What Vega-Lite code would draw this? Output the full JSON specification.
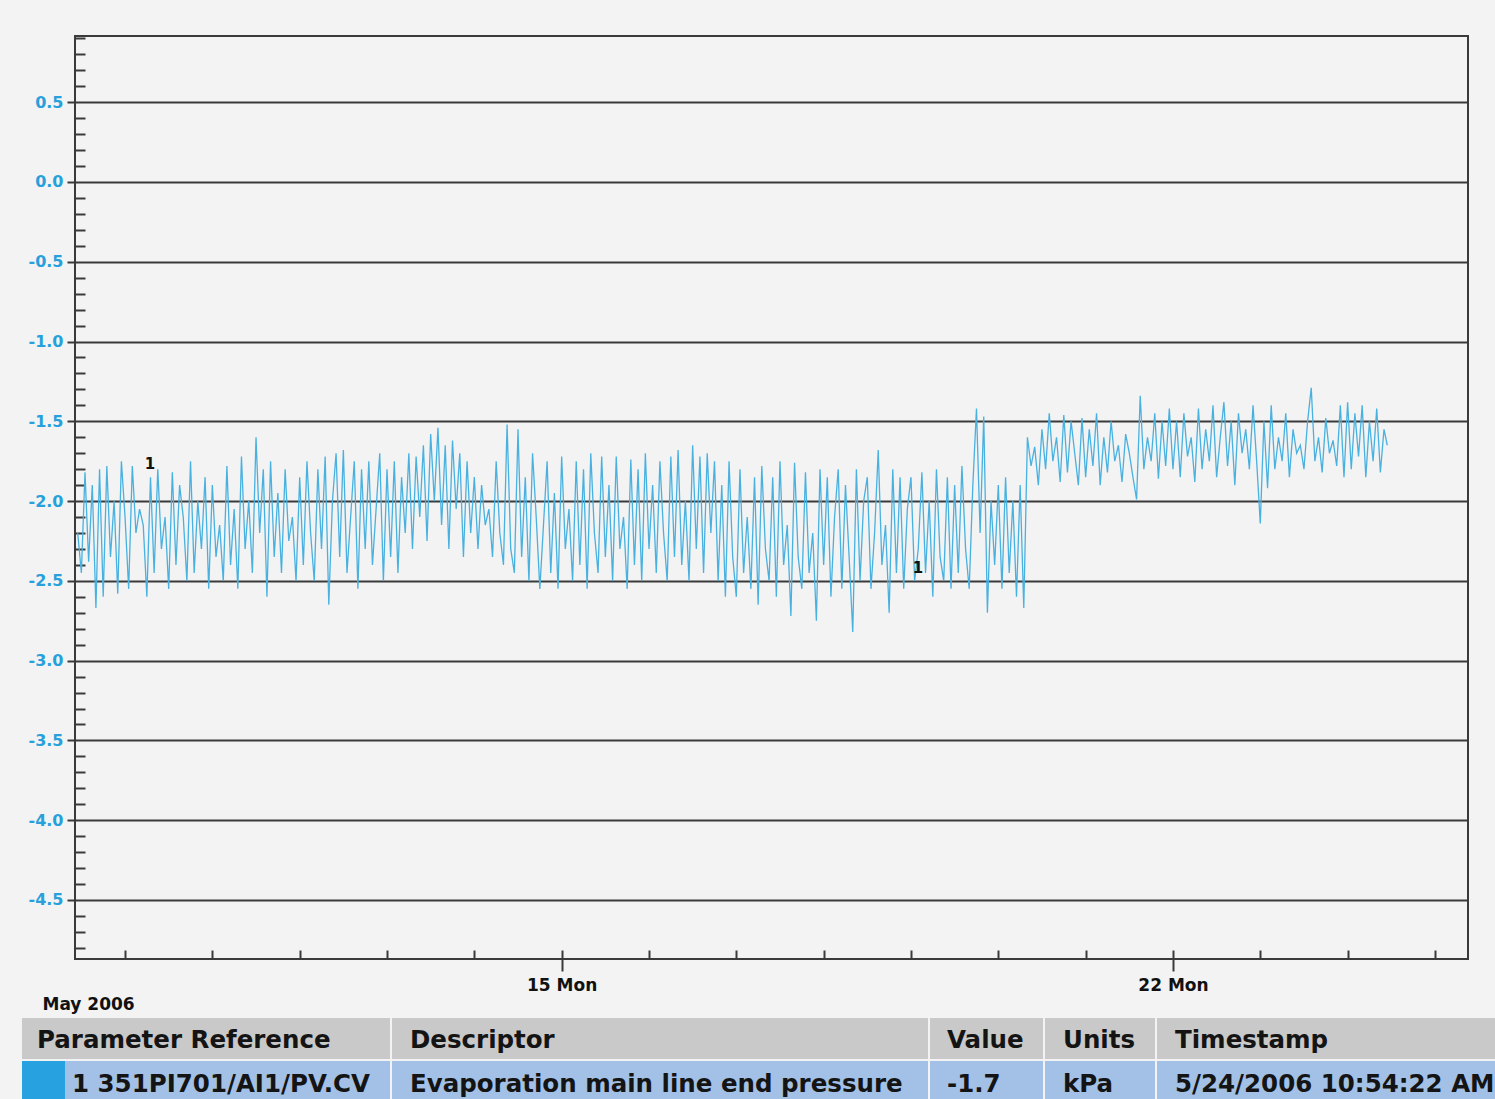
{
"$schema": "https://vega.github.io/schema/vega-lite/v6.json",
"background": "#f3f3f3",
"padding": {"left": 22, "top": 35, "right": 0, "bottom": 0},
"config": {"view": {"stroke": null}, "font": "DejaVu Sans"},
"spacing": 5,
"datasets": {
"markers": [{"t":"2006-05-10T06:52","v":-1.77,"label":"1"},{"t":"2006-05-19T01:55","v":-2.42,"label":"1"}],
"table": [
{"col":"c1a","row":"Header","label":""},{"col":"c1a","row":"Value","label":""},
{"col":"c1b","row":"Header","label":"Parameter Reference"},{"col":"c1b","row":"Value","label":"1 351PI701/AI1/PV.CV"},
{"col":"c2","row":"Header","label":"Descriptor"},{"col":"c2","row":"Value","label":"Evaporation main line end pressure"},
{"col":"c3","row":"Header","label":"Value"},{"col":"c3","row":"Value","label":"-1.7"},
{"col":"c4","row":"Header","label":"Units"},{"col":"c4","row":"Value","label":"kPa"},
{"col":"c5","row":"Header","label":"Timestamp"},{"col":"c5","row":"Value","label":"5/24/2006 10:54:22 AM"}
],
"series": [
{"t":"2006-05-09T11:00","v":-2.2},{"t":"2006-05-09T12:00","v":-2.45},{"t":"2006-05-09T13:00","v":-1.82},{"t":"2006-05-09T14:00","v":-2.38},{"t":"2006-05-09T15:00","v":-1.9},{"t":"2006-05-09T16:00","v":-2.67},{"t":"2006-05-09T17:00","v":-1.8},{"t":"2006-05-09T18:00","v":-2.6},{"t":"2006-05-09T19:00","v":-1.78},{"t":"2006-05-09T20:00","v":-2.35},{"t":"2006-05-09T21:00","v":-2.0},{"t":"2006-05-09T22:00","v":-2.58},{"t":"2006-05-09T23:00","v":-1.75},
{"t":"2006-05-10T00:00","v":-2.1},{"t":"2006-05-10T01:00","v":-2.55},{"t":"2006-05-10T02:00","v":-1.78},{"t":"2006-05-10T03:00","v":-2.2},{"t":"2006-05-10T04:00","v":-2.05},{"t":"2006-05-10T05:00","v":-2.15},{"t":"2006-05-10T06:00","v":-2.6},{"t":"2006-05-10T07:00","v":-1.85},{"t":"2006-05-10T08:00","v":-2.45},{"t":"2006-05-10T09:00","v":-1.8},{"t":"2006-05-10T10:00","v":-2.3},{"t":"2006-05-10T11:00","v":-2.1},{"t":"2006-05-10T12:00","v":-2.55},{"t":"2006-05-10T13:00","v":-1.82},{"t":"2006-05-10T14:00","v":-2.4},{"t":"2006-05-10T15:00","v":-1.9},{"t":"2006-05-10T16:00","v":-2.1},{"t":"2006-05-10T17:00","v":-2.5},{"t":"2006-05-10T18:00","v":-1.75},{"t":"2006-05-10T19:00","v":-2.45},{"t":"2006-05-10T20:00","v":-2.0},{"t":"2006-05-10T21:00","v":-2.3},{"t":"2006-05-10T22:00","v":-1.85},{"t":"2006-05-10T23:00","v":-2.55},
{"t":"2006-05-11T00:00","v":-1.9},{"t":"2006-05-11T01:00","v":-2.35},{"t":"2006-05-11T02:00","v":-2.15},{"t":"2006-05-11T03:00","v":-2.5},{"t":"2006-05-11T04:00","v":-1.78},{"t":"2006-05-11T05:00","v":-2.4},{"t":"2006-05-11T06:00","v":-2.05},{"t":"2006-05-11T07:00","v":-2.55},{"t":"2006-05-11T08:00","v":-1.72},{"t":"2006-05-11T09:00","v":-2.3},{"t":"2006-05-11T10:00","v":-2.0},{"t":"2006-05-11T11:00","v":-2.45},{"t":"2006-05-11T12:00","v":-1.6},{"t":"2006-05-11T13:00","v":-2.2},{"t":"2006-05-11T14:00","v":-1.8},{"t":"2006-05-11T15:00","v":-2.6},{"t":"2006-05-11T16:00","v":-1.75},{"t":"2006-05-11T17:00","v":-2.35},{"t":"2006-05-11T18:00","v":-1.95},{"t":"2006-05-11T19:00","v":-2.45},{"t":"2006-05-11T20:00","v":-1.8},{"t":"2006-05-11T21:00","v":-2.25},{"t":"2006-05-11T22:00","v":-2.1},{"t":"2006-05-11T23:00","v":-2.5},
{"t":"2006-05-12T00:00","v":-1.85},{"t":"2006-05-12T01:00","v":-2.4},{"t":"2006-05-12T02:00","v":-1.75},{"t":"2006-05-12T03:00","v":-2.2},{"t":"2006-05-12T04:00","v":-2.5},{"t":"2006-05-12T05:00","v":-1.8},{"t":"2006-05-12T06:00","v":-2.3},{"t":"2006-05-12T07:00","v":-1.72},{"t":"2006-05-12T08:00","v":-2.65},{"t":"2006-05-12T09:00","v":-2.0},{"t":"2006-05-12T10:00","v":-1.7},{"t":"2006-05-12T11:00","v":-2.35},{"t":"2006-05-12T12:00","v":-1.68},{"t":"2006-05-12T13:00","v":-2.45},{"t":"2006-05-12T14:00","v":-2.1},{"t":"2006-05-12T15:00","v":-1.75},{"t":"2006-05-12T16:00","v":-2.55},{"t":"2006-05-12T17:00","v":-1.8},{"t":"2006-05-12T18:00","v":-2.3},{"t":"2006-05-12T19:00","v":-1.75},{"t":"2006-05-12T20:00","v":-2.4},{"t":"2006-05-12T21:00","v":-2.05},{"t":"2006-05-12T22:00","v":-1.7},{"t":"2006-05-12T23:00","v":-2.5},
{"t":"2006-05-13T00:00","v":-1.8},{"t":"2006-05-13T01:00","v":-2.35},{"t":"2006-05-13T02:00","v":-1.75},{"t":"2006-05-13T03:00","v":-2.45},{"t":"2006-05-13T04:00","v":-1.85},{"t":"2006-05-13T05:00","v":-2.2},{"t":"2006-05-13T06:00","v":-1.7},{"t":"2006-05-13T07:00","v":-2.3},{"t":"2006-05-13T08:00","v":-1.72},{"t":"2006-05-13T09:00","v":-2.1},{"t":"2006-05-13T10:00","v":-1.65},{"t":"2006-05-13T11:00","v":-2.25},{"t":"2006-05-13T12:00","v":-1.58},{"t":"2006-05-13T13:00","v":-2.0},{"t":"2006-05-13T14:00","v":-1.54},{"t":"2006-05-13T15:00","v":-2.15},{"t":"2006-05-13T16:00","v":-1.65},{"t":"2006-05-13T17:00","v":-2.3},{"t":"2006-05-13T18:00","v":-1.62},{"t":"2006-05-13T19:00","v":-2.05},{"t":"2006-05-13T20:00","v":-1.7},{"t":"2006-05-13T21:00","v":-2.35},{"t":"2006-05-13T22:00","v":-1.75},{"t":"2006-05-13T23:00","v":-2.2},
{"t":"2006-05-14T00:00","v":-1.85},{"t":"2006-05-14T01:00","v":-2.3},{"t":"2006-05-14T02:00","v":-1.9},{"t":"2006-05-14T03:00","v":-2.15},{"t":"2006-05-14T04:00","v":-2.05},{"t":"2006-05-14T05:00","v":-2.35},{"t":"2006-05-14T06:00","v":-1.75},{"t":"2006-05-14T07:00","v":-2.2},{"t":"2006-05-14T08:00","v":-2.4},{"t":"2006-05-14T09:00","v":-1.52},{"t":"2006-05-14T10:00","v":-2.3},{"t":"2006-05-14T11:00","v":-2.45},{"t":"2006-05-14T12:00","v":-1.55},{"t":"2006-05-14T13:00","v":-2.35},{"t":"2006-05-14T14:00","v":-1.85},{"t":"2006-05-14T15:00","v":-2.5},{"t":"2006-05-14T16:00","v":-1.7},{"t":"2006-05-14T17:00","v":-2.1},{"t":"2006-05-14T18:00","v":-2.55},{"t":"2006-05-14T19:00","v":-2.15},{"t":"2006-05-14T20:00","v":-1.75},{"t":"2006-05-14T21:00","v":-2.45},{"t":"2006-05-14T22:00","v":-1.95},{"t":"2006-05-14T23:00","v":-2.55},
{"t":"2006-05-15T00:00","v":-1.72},{"t":"2006-05-15T01:00","v":-2.3},{"t":"2006-05-15T02:00","v":-2.05},{"t":"2006-05-15T03:00","v":-2.5},{"t":"2006-05-15T04:00","v":-1.75},{"t":"2006-05-15T05:00","v":-2.4},{"t":"2006-05-15T06:00","v":-1.8},{"t":"2006-05-15T07:00","v":-2.55},{"t":"2006-05-15T08:00","v":-1.7},{"t":"2006-05-15T09:00","v":-2.2},{"t":"2006-05-15T10:00","v":-2.45},{"t":"2006-05-15T11:00","v":-1.72},{"t":"2006-05-15T12:00","v":-2.35},{"t":"2006-05-15T13:00","v":-1.9},{"t":"2006-05-15T14:00","v":-2.5},{"t":"2006-05-15T15:00","v":-1.72},{"t":"2006-05-15T16:00","v":-2.3},{"t":"2006-05-15T17:00","v":-2.1},{"t":"2006-05-15T18:00","v":-2.55},{"t":"2006-05-15T19:00","v":-1.74},{"t":"2006-05-15T20:00","v":-2.4},{"t":"2006-05-15T21:00","v":-1.8},{"t":"2006-05-15T22:00","v":-2.5},{"t":"2006-05-15T23:00","v":-1.7},
{"t":"2006-05-16T00:00","v":-2.3},{"t":"2006-05-16T01:00","v":-1.9},{"t":"2006-05-16T02:00","v":-2.45},{"t":"2006-05-16T03:00","v":-1.75},{"t":"2006-05-16T04:00","v":-2.2},{"t":"2006-05-16T05:00","v":-2.5},{"t":"2006-05-16T06:00","v":-1.72},{"t":"2006-05-16T07:00","v":-2.35},{"t":"2006-05-16T08:00","v":-1.68},{"t":"2006-05-16T09:00","v":-2.4},{"t":"2006-05-16T10:00","v":-2.0},{"t":"2006-05-16T11:00","v":-2.5},{"t":"2006-05-16T12:00","v":-1.65},{"t":"2006-05-16T13:00","v":-2.3},{"t":"2006-05-16T14:00","v":-1.72},{"t":"2006-05-16T15:00","v":-2.45},{"t":"2006-05-16T16:00","v":-1.7},{"t":"2006-05-16T17:00","v":-2.2},{"t":"2006-05-16T18:00","v":-1.75},{"t":"2006-05-16T19:00","v":-2.5},{"t":"2006-05-16T20:00","v":-1.9},{"t":"2006-05-16T21:00","v":-2.6},{"t":"2006-05-16T22:00","v":-1.75},{"t":"2006-05-16T23:00","v":-2.35},
{"t":"2006-05-17T00:00","v":-2.6},{"t":"2006-05-17T01:00","v":-1.8},{"t":"2006-05-17T02:00","v":-2.45},{"t":"2006-05-17T03:00","v":-2.1},{"t":"2006-05-17T04:00","v":-2.55},{"t":"2006-05-17T05:00","v":-1.85},{"t":"2006-05-17T06:00","v":-2.65},{"t":"2006-05-17T07:00","v":-1.78},{"t":"2006-05-17T08:00","v":-2.3},{"t":"2006-05-17T09:00","v":-2.5},{"t":"2006-05-17T10:00","v":-1.85},{"t":"2006-05-17T11:00","v":-2.6},{"t":"2006-05-17T12:00","v":-1.75},{"t":"2006-05-17T13:00","v":-2.4},{"t":"2006-05-17T14:00","v":-2.15},{"t":"2006-05-17T15:00","v":-2.72},{"t":"2006-05-17T16:00","v":-1.76},{"t":"2006-05-17T17:00","v":-2.35},{"t":"2006-05-17T18:00","v":-2.55},{"t":"2006-05-17T19:00","v":-1.82},{"t":"2006-05-17T20:00","v":-2.45},{"t":"2006-05-17T21:00","v":-2.2},{"t":"2006-05-17T22:00","v":-2.75},{"t":"2006-05-17T23:00","v":-1.8},
{"t":"2006-05-18T00:00","v":-2.4},{"t":"2006-05-18T01:00","v":-1.85},{"t":"2006-05-18T02:00","v":-2.6},{"t":"2006-05-18T03:00","v":-2.1},{"t":"2006-05-18T04:00","v":-1.8},{"t":"2006-05-18T05:00","v":-2.55},{"t":"2006-05-18T06:00","v":-1.9},{"t":"2006-05-18T07:00","v":-2.35},{"t":"2006-05-18T08:00","v":-2.82},{"t":"2006-05-18T09:00","v":-1.8},{"t":"2006-05-18T10:00","v":-2.5},{"t":"2006-05-18T11:00","v":-2.0},{"t":"2006-05-18T12:00","v":-1.85},{"t":"2006-05-18T13:00","v":-2.55},{"t":"2006-05-18T14:00","v":-2.2},{"t":"2006-05-18T15:00","v":-1.68},{"t":"2006-05-18T16:00","v":-2.4},{"t":"2006-05-18T17:00","v":-2.15},{"t":"2006-05-18T18:00","v":-2.7},{"t":"2006-05-18T19:00","v":-1.8},{"t":"2006-05-18T20:00","v":-2.45},{"t":"2006-05-18T21:00","v":-1.85},{"t":"2006-05-18T22:00","v":-2.55},{"t":"2006-05-18T23:00","v":-2.05},
{"t":"2006-05-19T00:00","v":-1.85},{"t":"2006-05-19T01:00","v":-2.5},{"t":"2006-05-19T02:00","v":-2.3},{"t":"2006-05-19T03:00","v":-1.82},{"t":"2006-05-19T04:00","v":-2.45},{"t":"2006-05-19T05:00","v":-2.0},{"t":"2006-05-19T06:00","v":-2.6},{"t":"2006-05-19T07:00","v":-1.8},{"t":"2006-05-19T08:00","v":-2.35},{"t":"2006-05-19T09:00","v":-2.5},{"t":"2006-05-19T10:00","v":-1.85},{"t":"2006-05-19T11:00","v":-2.55},{"t":"2006-05-19T12:00","v":-1.9},{"t":"2006-05-19T13:00","v":-2.45},{"t":"2006-05-19T14:00","v":-1.78},{"t":"2006-05-19T15:00","v":-2.3},{"t":"2006-05-19T16:00","v":-2.55},{"t":"2006-05-19T17:00","v":-1.9},{"t":"2006-05-19T18:00","v":-1.42},{"t":"2006-05-19T19:00","v":-2.2},{"t":"2006-05-19T20:00","v":-1.47},{"t":"2006-05-19T21:00","v":-2.7},{"t":"2006-05-19T22:00","v":-2.0},{"t":"2006-05-19T23:00","v":-2.4},
{"t":"2006-05-20T00:00","v":-1.9},{"t":"2006-05-20T01:00","v":-2.55},{"t":"2006-05-20T02:00","v":-1.85},{"t":"2006-05-20T03:00","v":-2.45},{"t":"2006-05-20T04:00","v":-2.0},{"t":"2006-05-20T05:00","v":-2.6},{"t":"2006-05-20T06:00","v":-1.9},{"t":"2006-05-20T07:00","v":-2.67},{"t":"2006-05-20T08:00","v":-1.6},{"t":"2006-05-20T09:00","v":-1.78},{"t":"2006-05-20T10:00","v":-1.66},{"t":"2006-05-20T11:00","v":-1.9},{"t":"2006-05-20T12:00","v":-1.55},{"t":"2006-05-20T13:00","v":-1.8},{"t":"2006-05-20T14:00","v":-1.45},{"t":"2006-05-20T15:00","v":-1.75},{"t":"2006-05-20T16:00","v":-1.6},{"t":"2006-05-20T17:00","v":-1.88},{"t":"2006-05-20T18:00","v":-1.46},{"t":"2006-05-20T19:00","v":-1.82},{"t":"2006-05-20T20:00","v":-1.5},{"t":"2006-05-20T21:00","v":-1.7},{"t":"2006-05-20T22:00","v":-1.9},{"t":"2006-05-20T23:00","v":-1.48},
{"t":"2006-05-21T00:00","v":-1.85},{"t":"2006-05-21T01:00","v":-1.55},{"t":"2006-05-21T02:00","v":-1.78},{"t":"2006-05-21T03:00","v":-1.45},{"t":"2006-05-21T04:00","v":-1.9},{"t":"2006-05-21T05:00","v":-1.6},{"t":"2006-05-21T06:00","v":-1.82},{"t":"2006-05-21T07:00","v":-1.5},{"t":"2006-05-21T08:00","v":-1.75},{"t":"2006-05-21T09:00","v":-1.65},{"t":"2006-05-21T10:00","v":-1.88},{"t":"2006-05-21T11:00","v":-1.58},{"t":"2006-05-21T12:00","v":-1.7},{"t":"2006-05-21T13:00","v":-1.85},{"t":"2006-05-21T14:00","v":-1.99},{"t":"2006-05-21T15:00","v":-1.34},{"t":"2006-05-21T16:00","v":-1.8},{"t":"2006-05-21T17:00","v":-1.6},{"t":"2006-05-21T18:00","v":-1.75},{"t":"2006-05-21T19:00","v":-1.45},{"t":"2006-05-21T20:00","v":-1.86},{"t":"2006-05-21T21:00","v":-1.5},{"t":"2006-05-21T22:00","v":-1.78},{"t":"2006-05-21T23:00","v":-1.42},
{"t":"2006-05-22T00:00","v":-1.8},{"t":"2006-05-22T01:00","v":-1.5},{"t":"2006-05-22T02:00","v":-1.85},{"t":"2006-05-22T03:00","v":-1.45},{"t":"2006-05-22T04:00","v":-1.72},{"t":"2006-05-22T05:00","v":-1.6},{"t":"2006-05-22T06:00","v":-1.88},{"t":"2006-05-22T07:00","v":-1.42},{"t":"2006-05-22T08:00","v":-1.8},{"t":"2006-05-22T09:00","v":-1.55},{"t":"2006-05-22T10:00","v":-1.75},{"t":"2006-05-22T11:00","v":-1.4},{"t":"2006-05-22T12:00","v":-1.85},{"t":"2006-05-22T13:00","v":-1.6},{"t":"2006-05-22T14:00","v":-1.38},{"t":"2006-05-22T15:00","v":-1.78},{"t":"2006-05-22T16:00","v":-1.5},{"t":"2006-05-22T17:00","v":-1.9},{"t":"2006-05-22T18:00","v":-1.45},{"t":"2006-05-22T19:00","v":-1.7},{"t":"2006-05-22T20:00","v":-1.55},{"t":"2006-05-22T21:00","v":-1.8},{"t":"2006-05-22T22:00","v":-1.4},{"t":"2006-05-22T23:00","v":-1.75},
{"t":"2006-05-23T00:00","v":-2.14},{"t":"2006-05-23T01:00","v":-1.5},{"t":"2006-05-23T02:00","v":-1.92},{"t":"2006-05-23T03:00","v":-1.4},{"t":"2006-05-23T04:00","v":-1.8},{"t":"2006-05-23T05:00","v":-1.6},{"t":"2006-05-23T06:00","v":-1.75},{"t":"2006-05-23T07:00","v":-1.45},{"t":"2006-05-23T08:00","v":-1.85},{"t":"2006-05-23T09:00","v":-1.55},{"t":"2006-05-23T10:00","v":-1.7},{"t":"2006-05-23T11:00","v":-1.65},{"t":"2006-05-23T12:00","v":-1.8},{"t":"2006-05-23T13:00","v":-1.5},{"t":"2006-05-23T14:00","v":-1.29},{"t":"2006-05-23T15:00","v":-1.75},{"t":"2006-05-23T16:00","v":-1.6},{"t":"2006-05-23T17:00","v":-1.82},{"t":"2006-05-23T18:00","v":-1.48},{"t":"2006-05-23T19:00","v":-1.7},{"t":"2006-05-23T20:00","v":-1.62},{"t":"2006-05-23T21:00","v":-1.78},{"t":"2006-05-23T22:00","v":-1.4},{"t":"2006-05-23T23:00","v":-1.85},
{"t":"2006-05-24T00:00","v":-1.38},{"t":"2006-05-24T01:00","v":-1.8},{"t":"2006-05-24T02:00","v":-1.45},{"t":"2006-05-24T03:00","v":-1.72},{"t":"2006-05-24T04:00","v":-1.4},{"t":"2006-05-24T05:00","v":-1.85},{"t":"2006-05-24T06:00","v":-1.5},{"t":"2006-05-24T07:00","v":-1.75},{"t":"2006-05-24T08:00","v":-1.42},{"t":"2006-05-24T09:00","v":-1.82},{"t":"2006-05-24T10:00","v":-1.55},{"t":"2006-05-24T10:54","v":-1.65}
]
},
"vconcat": [
{"bounds": "flush", "spacing": 0, "hconcat": [
{"width": 53, "height": 923, "data": {"values": []}, "mark": "rect", "encoding": {}},
{
"width": 1393, "height": 923,
"view": {"stroke": "#3a3a3a", "strokeWidth": 2},
"layer": [
{"data": {"name": "series"},
 "mark": {"type": "line", "color": "#48b1e0", "strokeWidth": 1.3, "clip": true},
 "encoding": {
  "x": {"field": "t", "type": "temporal",
   "scale": {"domain": [{"year":2006,"month":5,"date":9,"hours":10,"minutes":15},{"year":2006,"month":5,"date":25,"hours":9,"minutes":5}]},
   "axis": {"orient": "bottom", "values": [{"year":2006,"month":5,"date":15},{"year":2006,"month":5,"date":22}],
    "labelExpr": "timeFormat(datum.value, '%-d %a')", "grid": false, "domain": false,
    "tickSize": 12, "tickColor": "#3a3a3a", "tickWidth": 2,
    "labelColor": "#111111", "labelFontWeight": "bold", "labelFontSize": 17, "labelFont": "DejaVu Sans", "labelPadding": 6,
    "title": "May 2006", "titleFontSize": 17, "titleFontWeight": "bold", "titleFont": "DejaVu Sans", "titleColor": "#111111",
    "titleAlign": "left", "titleAnchor": "start", "titleX": -33, "titlePadding": 3}},
  "y": {"field": "v", "type": "quantitative",
   "scale": {"domain": [-4.87, 0.915], "nice": false, "zero": false},
   "axis": {"orient": "left", "values": [-4.5,-4,-3.5,-3,-2.5,-2,-1.5,-1,-0.5,0,0.5],
    "labelExpr": "(datum.value < 0 ? '-' : '') + format(abs(datum.value), '.1f')",
    "title": null, "grid": true, "gridColor": "#3a3a3a", "gridWidth": 2, "domain": false,
    "tickSize": 8, "tickColor": "#3a3a3a", "tickWidth": 2,
    "labelColor": "#27a0dc", "labelFontWeight": "bold", "labelFontSize": 16, "labelFont": "DejaVu Sans", "labelPadding": 4}}
 }},
{"data": {"name": "markers"},
 "mark": {"type": "text", "fontWeight": "bold", "fontSize": 15, "font": "DejaVu Sans", "color": "#111111"},
 "encoding": {
  "x": {"field": "t", "type": "temporal",
   "axis": {"orient": "bottom", "values": [{"year":2006,"month":5,"date":10},{"year":2006,"month":5,"date":11},{"year":2006,"month":5,"date":12},{"year":2006,"month":5,"date":13},{"year":2006,"month":5,"date":14},{"year":2006,"month":5,"date":15},{"year":2006,"month":5,"date":16},{"year":2006,"month":5,"date":17},{"year":2006,"month":5,"date":18},{"year":2006,"month":5,"date":19},{"year":2006,"month":5,"date":20},{"year":2006,"month":5,"date":21},{"year":2006,"month":5,"date":22},{"year":2006,"month":5,"date":23},{"year":2006,"month":5,"date":24},{"year":2006,"month":5,"date":25}],
    "labels": false, "grid": false, "domain": false, "title": null, "tickSize": -9, "tickColor": "#3a3a3a", "tickWidth": 2}},
  "y": {"field": "v", "type": "quantitative",
   "axis": {"orient": "left", "values": [-4.8,-4.7,-4.6,-4.4,-4.3,-4.2,-4.1,-3.9,-3.8,-3.7,-3.6,-3.4,-3.3,-3.2,-3.1,-2.9,-2.8,-2.7,-2.6,-2.4,-2.3,-2.2,-2.1,-1.9,-1.8,-1.7,-1.6,-1.4,-1.3,-1.2,-1.1,-0.9,-0.8,-0.7,-0.6,-0.4,-0.3,-0.2,-0.1,0.1,0.2,0.3,0.4,0.6,0.7,0.8,0.9],
    "labels": false, "grid": false, "domain": false, "title": null, "tickSize": -10, "tickColor": "#3a3a3a", "tickWidth": 2}},
  "text": {"field": "label"}
 }}
],
"resolve": {"axis": {"x": "independent", "y": "independent"}}
}
]},
{
"bounds": "flush",
"spacing": 0,
"hconcat": [
 {"width": 43, "height": 84, "data": {"name": "table"}, "transform": [{"filter": "datum.col === 'c1a'"}],
  "encoding": {"x": {"field": "col", "type": "nominal", "axis": null, "scale": {"type": "band", "paddingInner": 0, "paddingOuter": 0}},
   "y": {"field": "row", "type": "nominal", "axis": null, "scale": {"type": "band", "domain": ["Header", "Value"], "paddingInner": 0.05, "paddingOuter": 0}}},
  "layer": [
   {"transform": [{"filter": "datum.row === 'Header'"}], "mark": {"type": "rect", "color": "#c9c9c9"}},
   {"transform": [{"filter": "datum.row === 'Value'"}], "mark": {"type": "rect", "color": "#27a1df"}}
  ]},
 {"width": 327, "height": 84, "data": {"name": "table"}, "transform": [{"filter": "datum.col === 'c1b'"}],
  "encoding": {"x": {"field": "col", "type": "nominal", "axis": null, "scale": {"type": "band", "paddingInner": 0, "paddingOuter": 0.003077, "align": 0}},
   "y": {"field": "row", "type": "nominal", "axis": null, "scale": {"type": "band", "domain": ["Header", "Value"], "paddingInner": 0.05, "paddingOuter": 0}}},
  "layer": [
   {"transform": [{"filter": "datum.row === 'Header'"}], "mark": {"type": "rect", "color": "#c9c9c9"}},
   {"transform": [{"filter": "datum.row === 'Value'"}], "mark": {"type": "rect", "color": "#a3c1e6"}},
   {"transform": [{"filter": "datum.row === 'Header'"}], "mark": {"type": "text", "align": "left", "dx": -28, "dy": 3, "font": "DejaVu Sans", "fontSize": 24.5, "fontWeight": "bold", "color": "#141414"},
    "encoding": {"x": {"field": "col", "type": "nominal", "bandPosition": 0, "axis": null, "scale": {"type": "band", "paddingInner": 0, "paddingOuter": 0.003077, "align": 0}}, "text": {"field": "label"}}},
   {"transform": [{"filter": "datum.row === 'Value'"}], "mark": {"type": "text", "align": "left", "dx": 7, "dy": 3, "font": "DejaVu Sans", "fontSize": 24.5, "fontWeight": "bold", "color": "#141414"},
    "encoding": {"x": {"field": "col", "type": "nominal", "bandPosition": 0, "axis": null, "scale": {"type": "band", "paddingInner": 0, "paddingOuter": 0.003077, "align": 0}}, "text": {"field": "label"}}}
  ]},
{"width": 538, "height": 84, "data": {"name": "table"}, "transform": [{"filter": "datum.col === 'c2'"}],
 "encoding": {"x": {"field": "col", "type": "nominal", "axis": null, "scale": {"type": "band", "paddingInner": 0, "paddingOuter": 0.001866, "align": 0}},
  "y": {"field": "row", "type": "nominal", "axis": null, "scale": {"type": "band", "domain": ["Header", "Value"], "paddingInner": 0.05, "paddingOuter": 0}}},
 "layer": [
  {"transform": [{"filter": "datum.row === 'Header'"}], "mark": {"type": "rect", "color": "#c9c9c9"}},
  {"transform": [{"filter": "datum.row === 'Value'"}], "mark": {"type": "rect", "color": "#a3c1e6"}},
  {"mark": {"type": "text", "align": "left", "dx": 18, "dy": 3, "font": "DejaVu Sans", "fontSize": 24.5, "fontWeight": "bold", "color": "#141414"},
   "encoding": {"x": {"field": "col", "type": "nominal", "bandPosition": 0, "axis": null, "scale": {"type": "band", "paddingInner": 0, "paddingOuter": 0.001866, "align": 0}}, "text": {"field": "label"}}}
 ]},
{"width": 115, "height": 84, "data": {"name": "table"}, "transform": [{"filter": "datum.col === 'c3'"}],
 "encoding": {"x": {"field": "col", "type": "nominal", "axis": null, "scale": {"type": "band", "paddingInner": 0, "paddingOuter": 0.00885, "align": 0}},
  "y": {"field": "row", "type": "nominal", "axis": null, "scale": {"type": "band", "domain": ["Header", "Value"], "paddingInner": 0.05, "paddingOuter": 0}}},
 "layer": [
  {"transform": [{"filter": "datum.row === 'Header'"}], "mark": {"type": "rect", "color": "#c9c9c9"}},
  {"transform": [{"filter": "datum.row === 'Value'"}], "mark": {"type": "rect", "color": "#a3c1e6"}},
  {"mark": {"type": "text", "align": "left", "dx": 17, "dy": 3, "font": "DejaVu Sans", "fontSize": 24.5, "fontWeight": "bold", "color": "#141414"},
   "encoding": {"x": {"field": "col", "type": "nominal", "bandPosition": 0, "axis": null, "scale": {"type": "band", "paddingInner": 0, "paddingOuter": 0.00885, "align": 0}}, "text": {"field": "label"}}}
 ]},
{"width": 112, "height": 84, "data": {"name": "table"}, "transform": [{"filter": "datum.col === 'c4'"}],
 "encoding": {"x": {"field": "col", "type": "nominal", "axis": null, "scale": {"type": "band", "paddingInner": 0, "paddingOuter": 0.00909, "align": 0}},
  "y": {"field": "row", "type": "nominal", "axis": null, "scale": {"type": "band", "domain": ["Header", "Value"], "paddingInner": 0.05, "paddingOuter": 0}}},
 "layer": [
  {"transform": [{"filter": "datum.row === 'Header'"}], "mark": {"type": "rect", "color": "#c9c9c9"}},
  {"transform": [{"filter": "datum.row === 'Value'"}], "mark": {"type": "rect", "color": "#a3c1e6"}},
  {"mark": {"type": "text", "align": "left", "dx": 18, "dy": 3, "font": "DejaVu Sans", "fontSize": 24.5, "fontWeight": "bold", "color": "#141414"},
   "encoding": {"x": {"field": "col", "type": "nominal", "bandPosition": 0, "axis": null, "scale": {"type": "band", "paddingInner": 0, "paddingOuter": 0.00909, "align": 0}}, "text": {"field": "label"}}}
 ]},
{"width": 338, "height": 84, "data": {"name": "table"}, "transform": [{"filter": "datum.col === 'c5'"}],
 "encoding": {"x": {"field": "col", "type": "nominal", "axis": null, "scale": {"type": "band", "paddingInner": 0, "paddingOuter": 0}},
  "y": {"field": "row", "type": "nominal", "axis": null, "scale": {"type": "band", "domain": ["Header", "Value"], "paddingInner": 0.05, "paddingOuter": 0}}},
 "layer": [
  {"transform": [{"filter": "datum.row === 'Header'"}], "mark": {"type": "rect", "color": "#c9c9c9"}},
  {"transform": [{"filter": "datum.row === 'Value'"}], "mark": {"type": "rect", "color": "#a3c1e6"}},
  {"mark": {"type": "text", "align": "left", "dx": 18, "dy": 3, "font": "DejaVu Sans", "fontSize": 24.5, "fontWeight": "bold", "color": "#141414"},
   "encoding": {"x": {"field": "col", "type": "nominal", "bandPosition": 0, "axis": null, "scale": {"type": "band", "paddingInner": 0, "paddingOuter": 0}}, "text": {"field": "label"}}}
 ]}
]
}
]
}
